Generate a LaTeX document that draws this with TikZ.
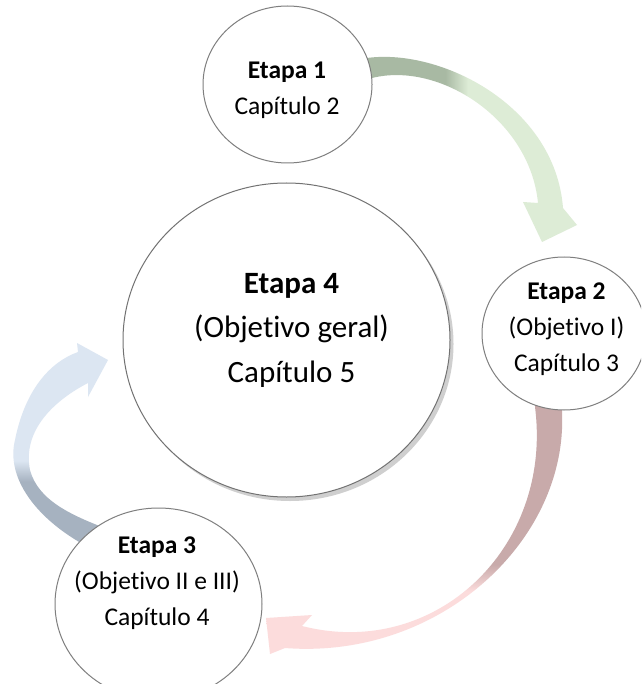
\documentclass[tikz,border=0pt]{standalone}
\usepackage{fontspec}
\setmainfont{Carlito}[Ligatures=CommonOff]
\usetikzlibrary{shapes.geometric}

\definecolor{circgray}{HTML}{7F7F7F}
\definecolor{shadowgray}{HTML}{CFCFCF}
\definecolor{greenD}{HTML}{A8B9A3}
\definecolor{greenL}{HTML}{DDECD6}
\definecolor{roseD}{HTML}{C8AAAA}
\definecolor{pinkL}{HTML}{FCDCDC}
\definecolor{slateD}{HTML}{A6B2C0}
\definecolor{blueL}{HTML}{DCE6F2}

% fills of the three curved arrows (dark tail, pale head)
\pgfdeclarehorizontalshading{greenfade}{100bp}{color(0bp)=(greenD); color(46bp)=(greenD); color(51bp)=(greenL); color(100bp)=(greenL)}
\pgfdeclareverticalshading{rosefade}{100bp}{color(0bp)=(pinkL); color(38bp)=(pinkL); color(43bp)=(roseD); color(100bp)=(roseD)}
\pgfdeclareverticalshading{bluefade}{100bp}{color(0bp)=(slateD); color(42bp)=(slateD); color(47bp)=(blueL); color(100bp)=(blueL)}

\begin{document}
\begin{tikzpicture}[x=1pt,y=-1pt,
  stage/.style={ellipse, draw=circgray, line width=1pt, fill=white, inner sep=0pt},
  smalltext/.style={align=center, font=\fontsize{25.5}{36}\selectfont},
  bigtext/.style={align=center, font=\fontsize{31}{44.5}\selectfont}]
\useasboundingbox (0,0) rectangle (641,684);
\clip (0,0) rectangle (641,684);
\fill[white] (0,0) rectangle (641,684);

% arrow: Etapa 1 -> Etapa 2
\shade[shading=greenfade]
  (350,57) -- (367,58) .. controls (440,48) and (555,105) .. (563,208)
  -- (577,225) -- (542,242) -- (523,202) -- (538,203)
  .. controls (530,120) and (440,61) .. (372,78) -- (352,80) -- cycle;

% arrow: Etapa 2 -> Etapa 3
\shade[shading=rosefade]
  (562,395) -- (562,412) .. controls (568,540) and (440,660) .. (285,648)
  -- (270,654) -- (266,618) -- (312,615) -- (302,626)
  .. controls (435,660) and (553,548) .. (535,407) -- (535,395) -- cycle;

% arrow: Etapa 3 -> Etapa 4
\shade[shading=bluefade]
  (100,553) .. controls (40,525) and (5,480) .. (15,440)
  .. controls (25,390) and (50,362) .. (78,352)
  -- (77,343) -- (108,360) -- (88,397) -- (88,383)
  .. controls (55,400) and (22,430) .. (30,470)
  .. controls (38,500) and (70,515) .. (110,530) -- cycle;

% stages
\node[ellipse, fill=shadowgray, inner sep=0pt, minimum width=327pt, minimum height=314pt] (s4shadow) at (290,344) {};
\node[stage, draw=circgray!90!black, minimum width=327pt, minimum height=314pt] (s4) at (286.5,340) {};
\node[stage, minimum width=169pt, minimum height=157pt] (s1) at (287.5,84.5) {};
\node[stage, minimum width=164pt, minimum height=153pt] (s2) at (564,333.5) {};
\node[stage, minimum width=207pt, minimum height=192pt] (s3) at (158.5,604) {};

\node[smalltext] (t1) at (287,90) {\textbf{Etapa 1}\\Capítulo 2};
\node[smalltext] (t2) at (566.5,329) {\textbf{Etapa 2}\\(Objetivo I)\\Capítulo 3};
\node[smalltext] (t3) at (157,583) {\textbf{Etapa 3}\\(Objetivo II e III)\\Capítulo 4};
\node[bigtext] (t4) at (291.5,330) {\textbf{Etapa 4}\\(Objetivo geral)\\Capítulo 5};
\end{tikzpicture}
\end{document}
